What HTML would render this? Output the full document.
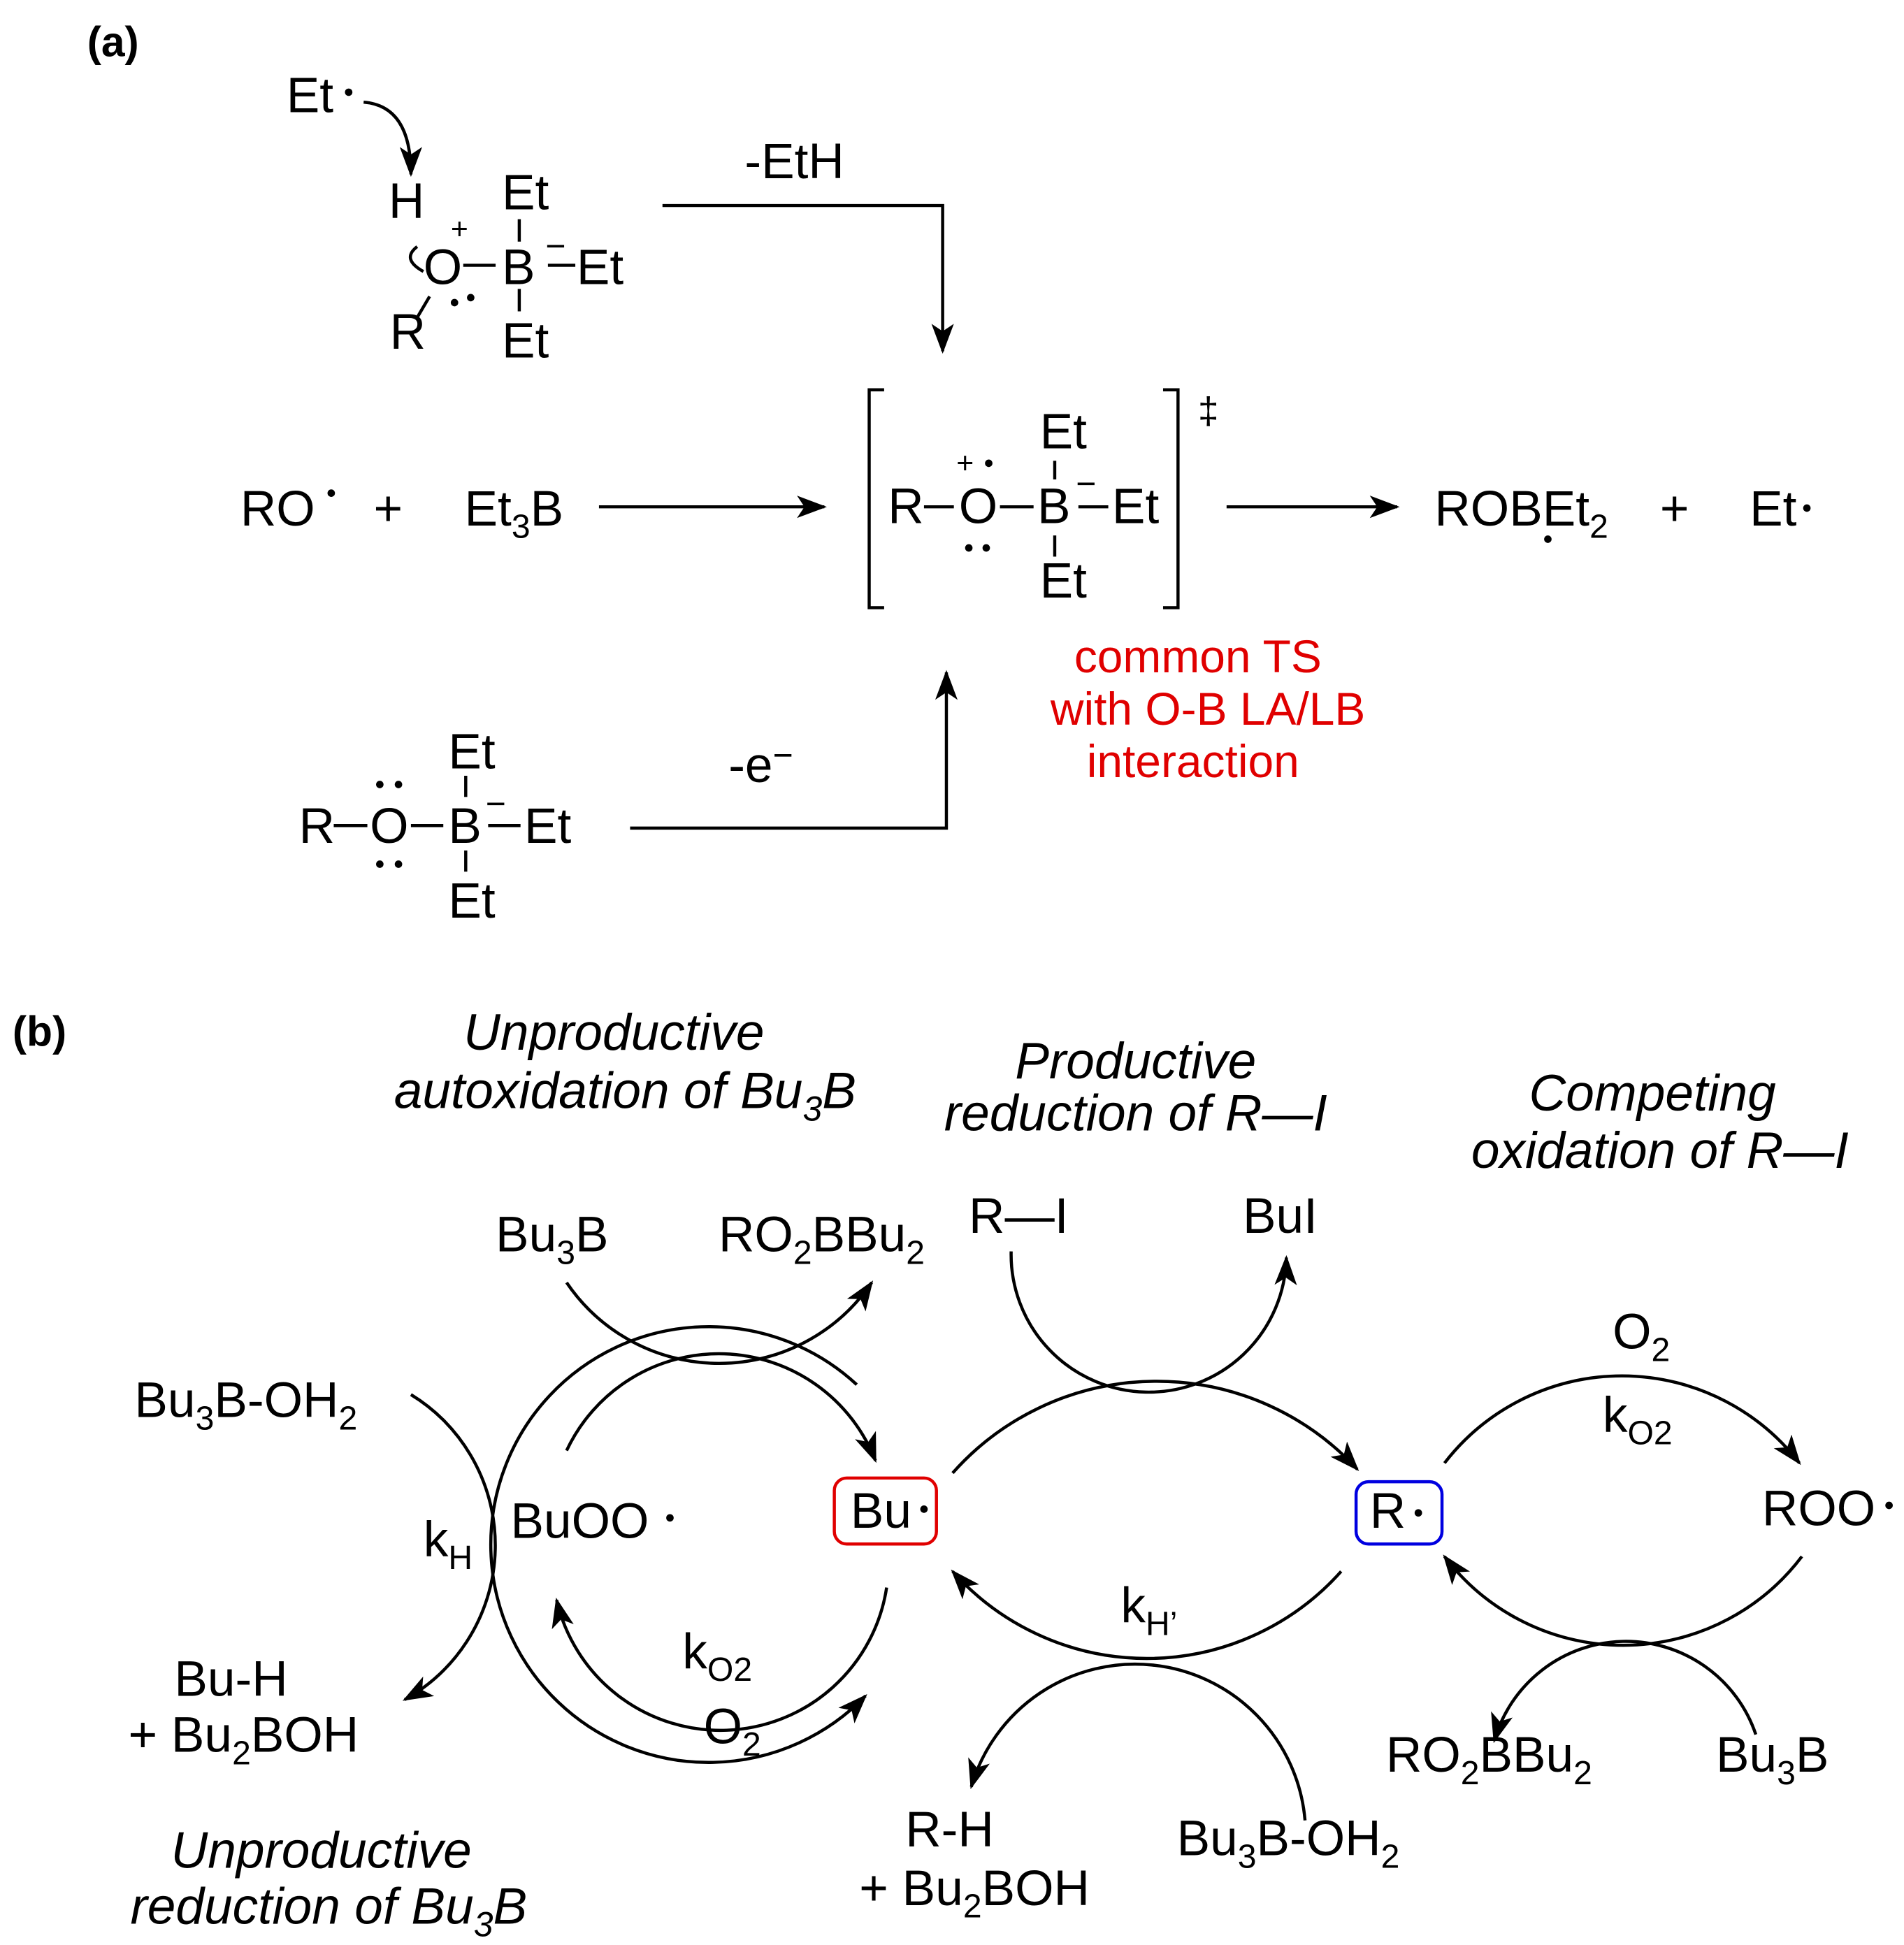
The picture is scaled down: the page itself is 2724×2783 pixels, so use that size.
<!DOCTYPE html>
<html><head><meta charset="utf-8"><style>
html,body{margin:0;padding:0;background:#fff}
svg{display:block}
text{font-family:"Liberation Sans",Arial,sans-serif;fill:#000}
.i{font-style:italic}
.r{fill:#e00000}
</style></head><body>
<svg width="2724" height="2783" viewBox="0 0 1529 1562" xmlns="http://www.w3.org/2000/svg">
<defs>
<marker id="ah" markerUnits="userSpaceOnUse" markerWidth="26" markerHeight="20" refX="22" refY="9" orient="auto">
<path d="M0,0 L24,9 L0,18 L6,9 Z" fill="#000"/>
</marker>
</defs>
<g stroke="#000" stroke-width="2.5" fill="none">
<path d="M292,82 Q330,85 330,140" marker-end="url(#ah)"/>
<path d="M335,198 Q322,208 340,218"/>
<line x1="372" y1="213" x2="398" y2="213"/>
<line x1="462" y1="213" x2="440" y2="213"/>
<line x1="417" y1="176" x2="417" y2="194"/>
<line x1="417" y1="232" x2="417" y2="250"/>
<line x1="335" y1="255" x2="345" y2="238"/>
<path d="M532,165 L757,165 L757,282" marker-end="url(#ah)"/>
<path d="M710,313 L698,313 L698,488 L710,488"/>
<path d="M934,313 L946,313 L946,488 L934,488"/>
<line x1="742" y1="407" x2="766" y2="407"/>
<line x1="803" y1="407" x2="830" y2="407"/>
<line x1="866" y1="407" x2="890" y2="407"/>
<line x1="847" y1="370" x2="847" y2="385"/>
<line x1="847" y1="430" x2="847" y2="447"/>
<line x1="481" y1="407" x2="662" y2="407" marker-end="url(#ah)"/>
<line x1="985" y1="407" x2="1122" y2="407" marker-end="url(#ah)"/>
<line x1="268" y1="663" x2="295" y2="663"/>
<line x1="330" y1="663" x2="356" y2="663"/>
<line x1="392" y1="663" x2="418" y2="663"/>
<line x1="374" y1="623" x2="374" y2="640"/>
<line x1="374" y1="683" x2="374" y2="700"/>
<path d="M506,665 L760,665 L760,540" marker-end="url(#ah)"/>
<path d="M688,1112 A175,175 0 1 0 695,1362" marker-end="url(#ah)"/>
<path d="M455,1165 A135,135 0 0 1 703,1173" marker-end="url(#ah)"/>
<path d="M712,1275 A135,135 0 0 1 447,1285" marker-end="url(#ah)"/>
<path d="M455,1030 A148,148 0 0 0 700,1030" marker-end="url(#ah)"/>
<path d="M330,1120 A142,142 0 0 1 325,1365" marker-end="url(#ah)"/>
<path d="M765,1183 A219,219 0 0 1 1090,1180" marker-end="url(#ah)"/>
<path d="M812,1005 A110,110 0 0 0 1033,1010" marker-end="url(#ah)"/>
<path d="M1077,1262 A209,209 0 0 1 765,1262" marker-end="url(#ah)"/>
<path d="M1048,1462 A137,137 0 0 0 780,1435" marker-end="url(#ah)"/>
<path d="M1160,1175 A180,180 0 0 1 1445,1175" marker-end="url(#ah)"/>
<path d="M1447,1250 A180,180 0 0 1 1160,1250" marker-end="url(#ah)"/>
<path d="M1410,1393 A110,110 0 0 0 1200,1398" marker-end="url(#ah)"/>
<rect x="670" y="1187" width="82" height="53" rx="10" stroke="#e00000"/>
<rect x="1089" y="1190" width="69" height="50" rx="10" stroke="#0000e0"/>
</g>
<g fill="#000">
<circle cx="280" cy="74" r="3"/>
<circle cx="365" cy="243" r="3"/><circle cx="378" cy="239" r="3"/>
<circle cx="794" cy="372" r="3"/>
<circle cx="778" cy="440" r="3"/><circle cx="792" cy="440" r="3"/>
<circle cx="266" cy="396" r="3"/>
<circle cx="1243" cy="433" r="3"/>
<circle cx="1451" cy="408" r="3"/>
<circle cx="305" cy="630" r="3"/><circle cx="320" cy="630" r="3"/>
<circle cx="305" cy="694" r="3"/><circle cx="320" cy="694" r="3"/>
<circle cx="538" cy="1219" r="3"/>
<circle cx="742" cy="1212" r="3"/>
<circle cx="1139" cy="1215" r="3"/>
<circle cx="1517" cy="1209" r="3"/>
</g>
<g font-size="40">
<text x="70" y="45" font-weight="bold" font-size="34">(a)</text>
<text x="230" y="90">Et</text>
<text x="312" y="175">H</text>
<text x="403" y="168">Et</text>
<text x="362" y="192" font-size="24">+</text>
<text x="340" y="228">O</text>
<text x="403" y="228">B</text>
<text x="438" y="207" font-size="28">−</text>
<text x="463" y="228">Et</text>
<text x="403" y="287">Et</text>
<text x="313" y="280">R</text>
<text x="598" y="143">-EtH</text>
<text x="962" y="340" font-size="30">‡</text>
<text x="835" y="360">Et</text>
<text x="768" y="380" font-size="24">+</text>
<text x="713" y="420">R</text>
<text x="770" y="420">O</text>
<text x="833" y="420">B</text>
<text x="864" y="398" font-size="28">−</text>
<text x="893" y="420">Et</text>
<text x="835" y="480">Et</text>
<text x="193" y="422">RO</text>
<text x="300" y="422">+</text>
<text x="373" y="422">Et<tspan font-size="27" dy="10">3</tspan><tspan dy="-10">B</tspan></text>
<text x="1152" y="422">ROBEt<tspan font-size="27" dy="10">2</tspan></text>
<text x="1333" y="422">+</text>
<text x="1405" y="422">Et</text>
<g class="r" text-anchor="middle" font-size="37">
<text class="r" x="962" y="540">common TS</text>
<text class="r" x="970" y="582">with O-B LA/LB</text>
<text class="r" x="958" y="624">interaction</text>
</g>
<text x="360" y="617">Et</text>
<text x="240" y="677">R</text>
<text x="297" y="677">O</text>
<text x="360" y="677">B</text>
<text x="390" y="655" font-size="28">−</text>
<text x="421" y="677">Et</text>
<text x="360" y="737">Et</text>
<text x="585" y="628">-e<tspan font-size="28" dy="-12">−</tspan></text>

<text x="10" y="840" font-weight="bold" font-size="34">(b)</text>
<g text-anchor="middle" font-size="41">
<text class="i" x="493" y="843">Unproductive</text>
<text class="i" x="502" y="890">autoxidation of Bu<tspan font-size="28" dy="10">3</tspan><tspan dy="-10">B</tspan></text>
<text class="i" x="912" y="866">Productive</text>
<text class="i" x="912" y="908">reduction of R—I</text>
<text class="i" x="1327" y="892">Competing</text>
<text class="i" x="1333" y="938">oxidation of R—I</text>
<text class="i" x="258" y="1500">Unproductive</text>
<text class="i" x="264" y="1545">reduction of Bu<tspan font-size="28" dy="10">3</tspan><tspan dy="-10">B</tspan></text>
</g>
<text x="398" y="1005">Bu<tspan font-size="27" dy="10">3</tspan><tspan dy="-10">B</tspan></text>
<text x="577" y="1005">RO<tspan font-size="27" dy="10">2</tspan><tspan dy="-10">BBu</tspan><tspan font-size="27" dy="10">2</tspan></text>
<text x="778" y="990">R—I</text>
<text x="998" y="990">BuI</text>
<text x="1295" y="1083">O<tspan font-size="27" dy="10">2</tspan></text>
<text x="1287" y="1150">k<tspan font-size="27" dy="10">O2</tspan></text>
<text x="1415" y="1225">ROO</text>
<text x="108" y="1138">Bu<tspan font-size="27" dy="10">3</tspan><tspan dy="-10">B-OH</tspan><tspan font-size="27" dy="10">2</tspan></text>
<text x="340" y="1250">k<tspan font-size="27" dy="10">H</tspan></text>
<text x="410" y="1235">BuOO</text>
<text x="683" y="1227">Bu</text>
<text x="1100" y="1227">R</text>
<text x="900" y="1303">k<tspan font-size="27" dy="10">H’</tspan></text>
<text x="548" y="1340">k<tspan font-size="27" dy="10">O2</tspan></text>
<text x="565" y="1400">O<tspan font-size="27" dy="10">2</tspan></text>
<text x="140" y="1362">Bu-H</text>
<text x="103" y="1407">+ Bu<tspan font-size="27" dy="10">2</tspan><tspan dy="-10">BOH</tspan></text>
<text x="727" y="1483">R-H</text>
<text x="690" y="1530">+ Bu<tspan font-size="27" dy="10">2</tspan><tspan dy="-10">BOH</tspan></text>
<text x="945" y="1490">Bu<tspan font-size="27" dy="10">3</tspan><tspan dy="-10">B-OH</tspan><tspan font-size="27" dy="10">2</tspan></text>
<text x="1113" y="1423">RO<tspan font-size="27" dy="10">2</tspan><tspan dy="-10">BBu</tspan><tspan font-size="27" dy="10">2</tspan></text>
<text x="1378" y="1423">Bu<tspan font-size="27" dy="10">3</tspan><tspan dy="-10">B</tspan></text>
</g>
</svg>
</body></html>
